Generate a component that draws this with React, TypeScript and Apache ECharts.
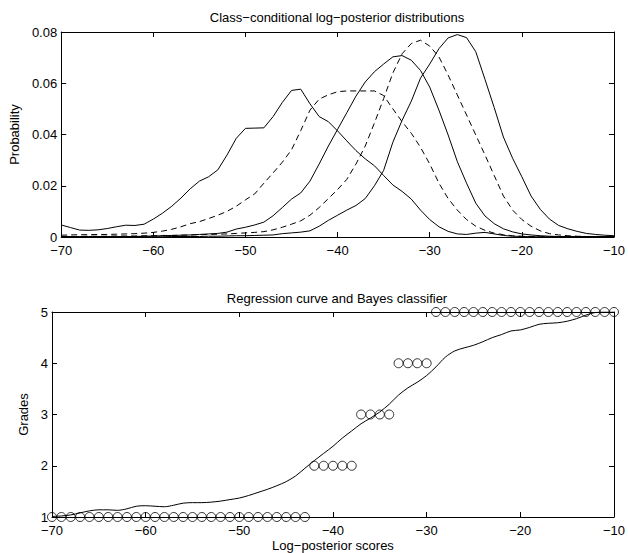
import React, { useEffect, useRef } from "react";
import * as echarts from "echarts";

const scoreX = [
  -70, -69, -68, -67, -66, -65, -64, -63, -62, -61,
  -60, -59, -58, -57, -56, -55, -54, -53, -52, -51,
  -50, -49, -48, -47, -46, -45, -44, -43, -42, -41,
  -40, -39, -38, -37, -36, -35, -34, -33, -32, -31,
  -30, -29, -28, -27, -26, -25, -24, -23, -22, -21,
  -20, -19, -18, -17, -16, -15, -14, -13, -12, -11, -10,
];

const grade1Prob = [
  0.0047, 0.0037, 0.0027, 0.0026, 0.0028, 0.0033, 0.004, 0.0046, 0.0045, 0.005,
  0.007, 0.0093, 0.012, 0.0152, 0.0188, 0.0218, 0.0235, 0.0262, 0.032, 0.0385,
  0.0424, 0.0425, 0.0426, 0.047, 0.0525, 0.0572, 0.0577, 0.052, 0.047, 0.045,
  0.0414, 0.0375, 0.0337, 0.0305, 0.0278, 0.024, 0.0203, 0.0178, 0.0148, 0.0105,
  0.0068, 0.004, 0.0022, 0.0012, 0.001, 0.0015, 0.0018, 0.0012, 0.0006, 0.0003,
  0.0002, 0.0001, 0.0001, 0.0001, 0.0001, 0.0001, 0.0001, 0.0001, 0.0001, 0.0001, 0.0001,
];

const grade2Prob = [
  0.0007, 0.0008, 0.0009, 0.0009, 0.001, 0.001, 0.0011, 0.0012, 0.0013, 0.0015,
  0.0018, 0.0023, 0.003, 0.004, 0.0052, 0.006, 0.0072, 0.0085, 0.01, 0.012,
  0.0145, 0.0168, 0.021, 0.025, 0.0292, 0.034, 0.0415, 0.0495, 0.0538, 0.0555,
  0.0567, 0.057, 0.057, 0.057, 0.057, 0.0552, 0.05, 0.045, 0.0405, 0.035,
  0.0285, 0.021, 0.015, 0.0105, 0.0068, 0.0042, 0.0026, 0.0015, 0.0009, 0.0005,
  0.0003, 0.0002, 0.0001, 0.0001, 0.0001, 0.0001, 0.0001, 0.0001, 0.0001, 0.0001, 0.0001,
];

const grade3Prob = [
  0.0002, 0.0002, 0.0002, 0.0002, 0.0002, 0.0002, 0.0002, 0.0002, 0.0002, 0.0003,
  0.0004, 0.0005, 0.0006, 0.0007, 0.0008, 0.001, 0.0012, 0.0014, 0.0019, 0.0031,
  0.0038, 0.0047, 0.0058, 0.0083, 0.0115, 0.0148, 0.0172, 0.0218, 0.0285, 0.0355,
  0.042, 0.0485, 0.055, 0.0605, 0.0645, 0.0675, 0.0703, 0.0708, 0.069, 0.065,
  0.0585, 0.0495, 0.0398, 0.0294, 0.021, 0.0132, 0.0082, 0.0052, 0.0032, 0.002,
  0.0012, 0.0008, 0.0005, 0.0003, 0.0002, 0.0002, 0.0002, 0.0002, 0.0002, 0.0002, 0.0002,
];

const grade4Prob = [
  0.0002, 0.0002, 0.0002, 0.0003, 0.0003, 0.0003, 0.0004, 0.0004, 0.0004, 0.0005,
  0.0005, 0.0006, 0.0006, 0.0007, 0.0008, 0.0009, 0.001, 0.0011, 0.0012, 0.0014,
  0.0016, 0.0018, 0.0021, 0.0028, 0.0038, 0.005, 0.0063, 0.0085, 0.0115, 0.015,
  0.0185, 0.0225, 0.0285, 0.0355, 0.0445, 0.054, 0.064, 0.0715, 0.0755, 0.0768,
  0.0745, 0.0703, 0.0632, 0.0554, 0.0476, 0.0398, 0.032, 0.024, 0.016, 0.0105,
  0.0068, 0.0042, 0.0024, 0.0013, 0.0008, 0.0005, 0.0003, 0.0002, 0.0002, 0.0002, 0.0002,
];

const grade5Prob = [
  0.0001, 0.0001, 0.0001, 0.0001, 0.0001, 0.0001, 0.0001, 0.0001, 0.0001, 0.0001,
  0.0001, 0.0001, 0.0002, 0.0002, 0.0002, 0.0002, 0.0003, 0.0003, 0.0004, 0.0005,
  0.0005, 0.0006, 0.0007, 0.0008, 0.0013, 0.0016, 0.0019, 0.0024, 0.0042, 0.0065,
  0.0085, 0.0105, 0.0123, 0.015, 0.02, 0.026, 0.037, 0.0455, 0.053, 0.062,
  0.0675, 0.0735, 0.0777, 0.079, 0.0778, 0.0723, 0.0615, 0.0505, 0.039, 0.0307,
  0.0235, 0.016, 0.0108, 0.007, 0.0045, 0.0032, 0.0022, 0.0014, 0.001, 0.0007, 0.0005,
];

const regressionGrade = [
  1.01, 1.02, 1.04, 1.08, 1.12, 1.14, 1.14, 1.13, 1.16, 1.21,
  1.22, 1.21, 1.2, 1.23, 1.27, 1.28, 1.28, 1.29, 1.31, 1.34,
  1.37, 1.42, 1.48, 1.54, 1.61, 1.69, 1.8, 1.95, 2.1, 2.24,
  2.38, 2.54, 2.68, 2.82, 2.93, 3.05, 3.2, 3.38, 3.52, 3.63,
  3.76, 3.93, 4.12, 4.24, 4.3, 4.35, 4.42, 4.5, 4.56, 4.63,
  4.65, 4.7, 4.76, 4.78, 4.79, 4.82, 4.87, 4.94, 4.99, 5.0, 5.0,
];

const classifierScores = [
  -70, -69, -68, -67, -66, -65, -64, -63, -62, -61,
  -60, -59, -58, -57, -56, -55, -54, -53, -52, -51,
  -50, -49, -48, -47, -46, -45, -44, -43,
  -42, -41, -40, -39, -38,
  -37, -36, -35, -34,
  -33, -32, -31, -30,
  -29, -28, -27, -26, -25, -24, -23, -22, -21, -20,
  -19, -18, -17, -16, -15, -14, -13, -12, -11, -10,
];
const classifierGrades = [
  1, 1, 1, 1, 1, 1, 1, 1, 1, 1,
  1, 1, 1, 1, 1, 1, 1, 1, 1, 1,
  1, 1, 1, 1, 1, 1, 1, 1,
  2, 2, 2, 2, 2,
  3, 3, 3, 3,
  4, 4, 4, 4,
  5, 5, 5, 5, 5, 5, 5, 5, 5, 5,
  5, 5, 5, 5, 5, 5, 5, 5, 5, 5,
];

const xTicks = { min: -70, max: -10, interval: 10 };
const topTitle = "Class\u2212conditional log\u2212posterior distributions";
const bottomTitle = "Regression curve and Bayes classifier";
const topYName = "Probability";
const bottomYName = "Grades";
const bottomXName = "Log\u2212posterior scores";

const FONT = "'Liberation Sans', Arial, Helvetica, sans-serif";
const FS = 13;

function pairs(xv: number[], yv: number[]) {
  return xv.map((x, i) => [x, yv[i]]);
}

function fmtX(v: number) {
  return v < 0 ? "\u2212" + Math.abs(v) : String(v);
}

export default function App() {
  const ref = useRef<HTMLDivElement>(null);
  useEffect(() => {
    if (!ref.current) return;
    const chart = echarts.init(ref.current, null, { renderer: "svg" });
    const gridTop = { left: 52, top: 32, width: 569, height: 205 };
    const gridBot = { left: 52, top: 312, width: 569, height: 205 };
    const lineStyle = { color: "#000", width: 1 };
    const mainX = (gridIndex: number, name?: string) => ({
      type: "value",
      gridIndex,
      position: "bottom",
      ...xTicks,
      name: name || "",
      nameLocation: "middle",
      nameGap: 22,
      nameTextStyle: { fontFamily: FONT, fontSize: FS, color: "#000" },
      axisLine: { show: true, onZero: false, lineStyle },
      axisTick: { show: true, inside: true, length: 5, lineStyle },
      axisLabel: { show: true, margin: 7, fontFamily: FONT, fontSize: FS, color: "#000", formatter: fmtX },
      splitLine: { show: false },
    });
    const mirrorX = (gridIndex: number) => ({
      type: "value",
      gridIndex,
      position: "top",
      ...xTicks,
      axisLine: { show: true, onZero: false, lineStyle },
      axisTick: { show: true, inside: true, length: 5, lineStyle },
      axisLabel: { show: false },
      splitLine: { show: false },
    });
    const mainY = (gridIndex: number, min: number, max: number, interval: number, name: string, gap: number, fmt: (v: number) => string) => ({
      type: "value",
      gridIndex,
      position: "left",
      min,
      max,
      interval,
      name,
      nameLocation: "middle",
      nameGap: gap,
      nameTextStyle: { fontFamily: FONT, fontSize: FS, color: "#000" },
      axisLine: { show: true, onZero: false, lineStyle },
      axisTick: { show: true, inside: true, length: 5, lineStyle },
      axisLabel: { show: true, margin: 4, fontFamily: FONT, fontSize: FS, color: "#000", formatter: fmt },
      splitLine: { show: false },
    });
    const mirrorY = (gridIndex: number, min: number, max: number, interval: number) => ({
      type: "value",
      gridIndex,
      position: "right",
      min,
      max,
      interval,
      axisLine: { show: true, onZero: false, lineStyle },
      axisTick: { show: true, inside: true, length: 5, lineStyle },
      axisLabel: { show: false },
      splitLine: { show: false },
    });
    const probFmt = (v: number) => (v === 0 ? "0" : v.toFixed(2));
    const gradeFmt = (v: number) => String(v);

    const probSeries = [
      { data: grade1Prob, dashed: false },
      { data: grade2Prob, dashed: true },
      { data: grade3Prob, dashed: false },
      { data: grade4Prob, dashed: true },
      { data: grade5Prob, dashed: false },
    ].map((s) => ({
      type: "line",
      xAxisIndex: 0,
      yAxisIndex: 0,
      data: pairs(scoreX, s.data),
      showSymbol: false,
      symbol: "none",
      lineStyle: { color: "#000", width: 1, type: s.dashed ? [6, 4] : "solid" },
      silent: true,
      z: 3,
    }));

    chart.setOption({
      animation: false,
      backgroundColor: "#fff",
      textStyle: { fontFamily: FONT },
      grid: [gridTop, gridBot],
      xAxis: [mainX(0), mirrorX(0), mainX(1, bottomXName), mirrorX(1)],
      yAxis: [
        mainY(0, 0, 0.08, 0.02, topYName, 33, probFmt),
        mirrorY(0, 0, 0.08, 0.02),
        mainY(1, 1, 5, 1, bottomYName, 15, gradeFmt),
        mirrorY(1, 1, 5, 1),
      ],
      graphic: [
        {
          type: "text",
          x: 337,
          y: 17,
          style: { text: topTitle, font: `${FS}px ${FONT}`, fill: "#000", align: "center", verticalAlign: "middle" },
        },
        {
          type: "text",
          x: 337,
          y: 298,
          style: { text: bottomTitle, font: `${FS}px ${FONT}`, fill: "#000", align: "center", verticalAlign: "middle" },
        },
      ],
      series: [
        ...probSeries,
        {
          type: "line",
          xAxisIndex: 2,
          yAxisIndex: 2,
          data: pairs(scoreX, regressionGrade),
          showSymbol: false,
          symbol: "none",
          smooth: 0.3,
          lineStyle: { color: "#000", width: 1 },
          silent: true,
          z: 3,
        },
        {
          type: "scatter",
          xAxisIndex: 2,
          yAxisIndex: 2,
          data: pairs(classifierScores, classifierGrades),
          symbol: "circle",
          symbolSize: 9,
          itemStyle: { color: "rgba(0,0,0,0)", borderColor: "#000", borderWidth: 1 },
          silent: true,
          clip: false,
          z: 4,
        },
      ],
    });
    return () => chart.dispose();
  }, []);
  return (
    <div
      ref={ref}
      style={{ position: "fixed", left: 0, top: 0, width: 628, height: 553, background: "#fff" }}
    />
  );
}
